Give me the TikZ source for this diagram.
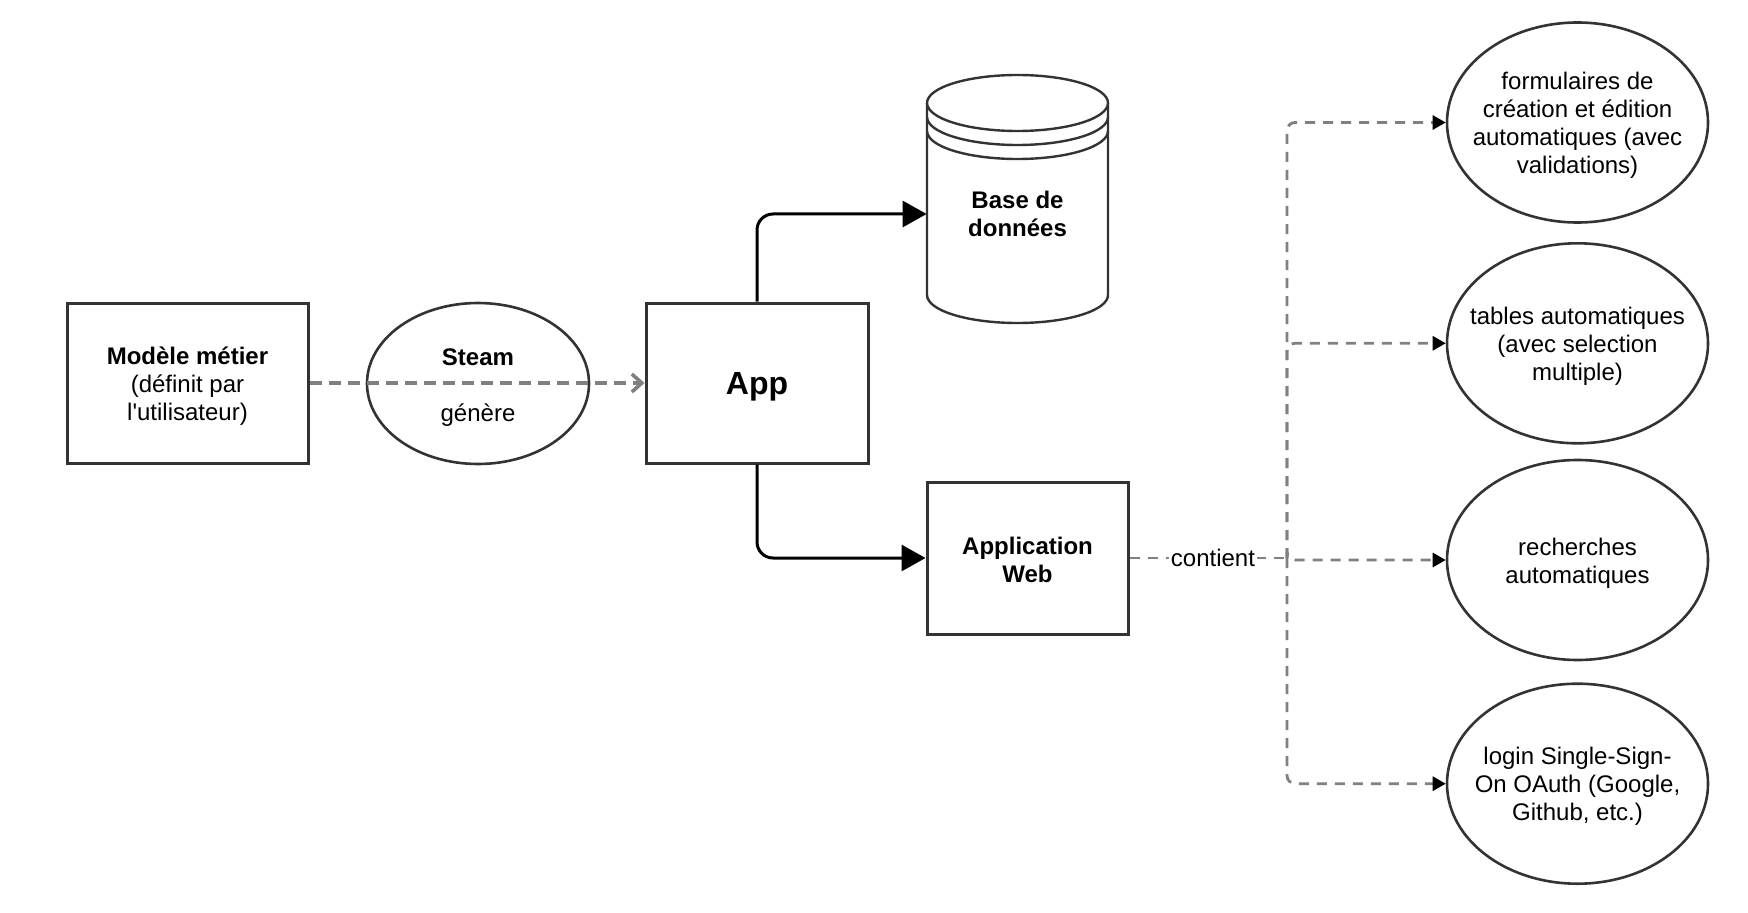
\documentclass[tikz,border=0pt]{standalone}
\usepackage{fontspec}
\setmainfont{Liberation Sans}
\usepackage{tikz}
\definecolor{border}{rgb}{0.2,0.2,0.2}
\definecolor{dashgray}{rgb}{0.5,0.5,0.5}
\usetikzlibrary{arrows.meta}
\usetikzlibrary{shapes.geometric}
\tikzset{box/.style={rectangle, draw=border, line width=1.5pt, fill=white, align=center},
	bubble/.style={ellipse, draw=border, line width=1.3pt, fill=white, inner sep=0pt, minimum width=130.5pt, minimum height=100pt},
	bubbletext/.style={align=center, yshift=-1.5pt},
	flow/.style={line width=1.5pt, rounded corners=8pt, -{Triangle[length=12pt,width=13pt]}},
	gen/.style={draw=dashgray, line width=1.8pt, dash pattern=on 6pt off 3.5pt, -{Straight Barb[length=5pt,width=9pt]}},
	has/.style={draw=dashgray, line width=1.4pt, dash pattern=on 5pt off 4pt, rounded corners=4pt, -{Triangle[length=6.5pt,width=7pt,color=black]}}}

\begin{document}
\begin{tikzpicture}[x=0.5pt, y=0.5pt, font=\fontsize{12}{14}\selectfont]
	\useasboundingbox (0,0) rectangle (1748,912);

	% left part
	\node[box, minimum width=120.5pt, minimum height=80pt] (modele) at (187.5,529)
	{\rule{0pt}{12pt}\textbf{Modèle métier}\\(définit par\\l\textquotesingle utilisateur)};
	\node[ellipse, draw=border, line width=1.3pt, fill=white, minimum width=111pt, minimum height=80.5pt, align=center] (steam) at (478,528.5)
	{\rule{0pt}{12pt}\textbf{Steam}\\[14pt]génère};
	\node[box, minimum width=111pt, minimum height=80pt, font=\fontsize{16}{19}\selectfont\bfseries] (app) at (757,529) {\rule{0pt}{15pt}App};
	\draw[gen] (modele.east) -- (app.west);

	% database
	\filldraw[draw=border, fill=white, line width=1.2pt] (927,809) -- (927,617)
	arc[start angle=180, end angle=360, x radius=45.25pt, y radius=14pt] -- (1108,809);
	\filldraw[draw=border, fill=white, line width=1.2pt] (1017.5,809) ellipse [x radius=45.25pt, y radius=14pt];
	\draw[border, line width=1.2pt] (927,795) arc[start angle=180, end angle=360, x radius=45.25pt, y radius=14pt];
	\draw[border, line width=1.2pt] (927,781) arc[start angle=180, end angle=360, x radius=45.25pt, y radius=14pt];
	\node[minimum width=90.5pt, align=center, font=\fontsize{12}{14}\selectfont\bfseries] (db) at (1017.5,698) {Base de\\données};

	% web app
	\node[box, minimum width=100.5pt, minimum height=76pt, font=\fontsize{12}{14}\selectfont\bfseries] (web) at (1027.5,354) {\rule{0pt}{11pt}Application\\Web};
	\draw[flow] (app.north) |- (db.west);
	\draw[flow] (app.south) |- (web.west);

	% features
	\node[bubble] (forms) at (1577.5,789.5) {};
	\node[bubbletext] (formstext) at (forms) {formulaires de\\création et édition\\automatiques (avec\\validations)};
	\node[bubble] (tables) at (1577.5,568.7) {};
	\node[bubbletext] (tablestext) at (tables) {tables automatiques\\(avec selection\\multiple)};
	\node[bubble] (search) at (1577.5,352) {};
	\node[bubbletext] (searchtext) at (search) {recherches\\automatiques};
	\node[bubble] (login) at (1577.5,128.3) {};
	\node[bubbletext] (logintext) at (login) {login Single-Sign-\\On OAuth (Google,\\Github, etc.)};

	% contient
	\coordinate (split) at (1287,354);
	\draw[has, -] (web.east) -- node[pos=0.53, fill=white, inner sep=1pt] (contient) {contient} (split);
	\draw[has] (split) |- (forms);
	\draw[has] (split) |- (tables);
	\draw[has] (split) |- (search);
	\draw[has] (split) |- (login);
\end{tikzpicture}
\end{document}
